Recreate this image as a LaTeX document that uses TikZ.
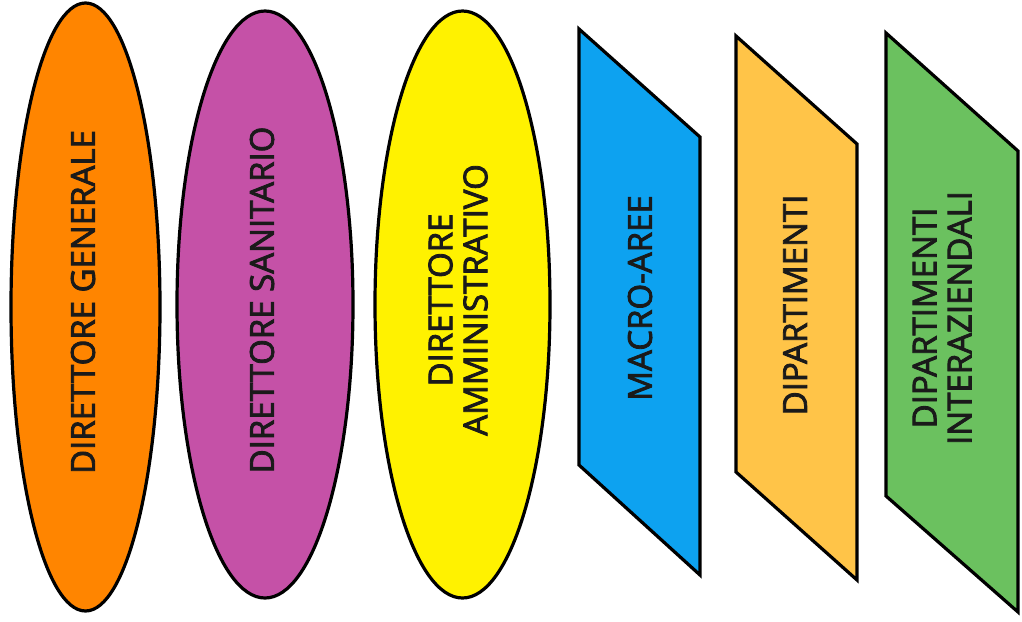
\documentclass[tikz,border=0pt]{standalone}
\usepackage{fontspec}
\setmainfont{Open Sans}
\newfontfamily\lblfont[FakeBold=2.5]{Open Sans}
\definecolor{cOrange}{HTML}{FF8500}
\definecolor{cPurple}{HTML}{C551A7}
\definecolor{cYellow}{HTML}{FFF200}
\definecolor{cBlue}{HTML}{0DA2F0}
\definecolor{cGold}{HTML}{FFC448}
\definecolor{cGreen}{HTML}{6BC15F}
\definecolor{cInk}{HTML}{1A1A1A}
\begin{document}
\begin{tikzpicture}[x=1pt,y=-1pt,
  shapeline/.style={draw=black,line width=3.2pt,line join=miter},
  lbl/.style={rotate=90,text=cInk,font=\lblfont\fontsize{33}{35}\selectfont,align=center,inner sep=0pt}]
\useasboundingbox (0,0) rectangle (1022,621);
% ellipses
\draw[shapeline,fill=cOrange] (85.5,307) ellipse [x radius=74.5,y radius=304];
\draw[shapeline,fill=cPurple] (265,304.5) ellipse [x radius=88,y radius=293.5];
\draw[shapeline,fill=cYellow] (462.5,304.5) ellipse [x radius=87.5,y radius=293.5];
\node[lbl] (dg) at (83,302) {DIRETTORE GENERALE};
\node[lbl] (ds) at (262,300) {DIRETTORE SANITARIO};
\node[lbl] (da) at (458,300) {DIRETTORE\\AMMINISTRATIVO};
% parallelograms
\coordinate (b1) at (579,29); \coordinate (b2) at (700,137);
\coordinate (b3) at (700,575); \coordinate (b4) at (579,465);
\draw[shapeline,fill=cBlue] (b1) -- (b2) -- (b3) -- (b4) -- cycle;
\coordinate (o1) at (736,36); \coordinate (o2) at (857,144);
\coordinate (o3) at (857,580); \coordinate (o4) at (736,472);
\draw[shapeline,fill=cGold] (o1) -- (o2) -- (o3) -- (o4) -- cycle;
\coordinate (g1) at (886,33); \coordinate (g2) at (1018,151);
\coordinate (g3) at (1018,612); \coordinate (g4) at (886,496);
\draw[shapeline,fill=cGreen] (g1) -- (g2) -- (g3) -- (g4) -- cycle;
\node[lbl] (ma) at (640,298) {MACRO-AREE};
\node[lbl] (dp) at (795,305) {DIPARTIMENTI};
\node[lbl] (di) at (942,318) {DIPARTIMENTI\\INTERAZIENDALI};
\end{tikzpicture}
\end{document}
